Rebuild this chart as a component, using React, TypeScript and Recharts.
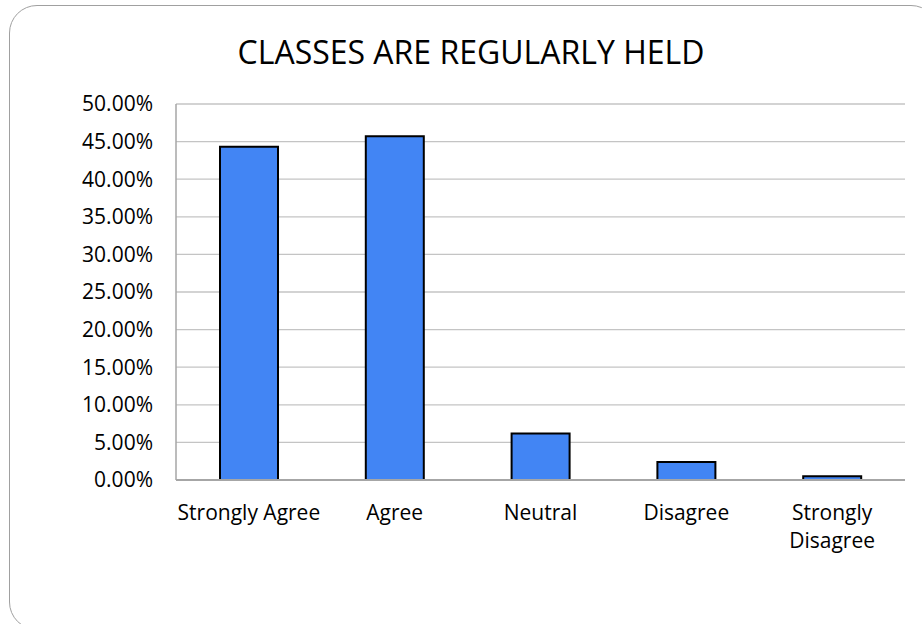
import { BarChart, Bar, XAxis, YAxis, CartesianGrid } from 'recharts';

const categories = ['Strongly Agree', 'Agree', 'Neutral', 'Disagree', 'Strongly Disagree'];
const shares = [44.3, 45.7, 6.2, 2.4, 0.5];
const yTicks = [0, 5, 10, 15, 20, 25, 30, 35, 40, 45, 50];

const data = categories.map((label, i) => ({ label, share: shares[i] }));

const FONT = '"Open Sans", sans-serif';

// wrap labels the way the spreadsheet does: words are kept together up to ~15 chars
function wrapLabel(text: string, maxChars = 15) {
  const lines: string[] = [];
  let cur = '';
  for (const w of text.split(' ')) {
    const next = cur ? cur + ' ' + w : w;
    if (next.length > maxChars && cur) {
      lines.push(cur);
      cur = w;
    } else {
      cur = next;
    }
  }
  if (cur) lines.push(cur);
  return lines;
}

function CategoryTick(props: any) {
  const { x, y, payload } = props;
  const lines = wrapLabel(String(payload.value));
  return (
    <text x={x} y={y} textAnchor="middle" fill="#000" fontSize={21} fontFamily={FONT}>
      {lines.map((line, i) => (
        <tspan key={i} x={x} dy={i === 0 ? '0.71em' : 28}>
          {line}
        </tspan>
      ))}
    </text>
  );
}

export default function App() {
  return (
    <div style={{ position: 'fixed', left: 0, top: 0, width: 922, height: 624, overflow: 'hidden', background: '#fff' }}>
      <div
        style={{
          position: 'absolute',
          left: 9,
          top: 5,
          width: 930,
          height: 625,
          border: '1.5px solid #a0a0a0',
          borderRadius: 28,
          boxSizing: 'border-box',
        }}
      />
      <div
        style={{
          position: 'absolute',
          left: 0,
          top: 30,
          width: 942,
          textAlign: 'center',
          fontFamily: FONT,
          fontSize: 32,
          lineHeight: '44px',
          color: '#000',
        }}
      >
        CLASSES ARE REGULARLY HELD
      </div>
      <div style={{ position: 'absolute', left: 0, top: 0 }}>
        <BarChart width={922} height={624} data={data} margin={{ top: 104, right: 17, bottom: 114, left: 0 }} barSize={58}>
          <CartesianGrid vertical={false} stroke="#c4c4c4" strokeWidth={1.3} />
          <XAxis
            dataKey="label"
            height={30}
            interval={0}
            tickLine={false}
            tickSize={0}
            tickMargin={25}
            axisLine={{ stroke: '#a6a6a6', strokeWidth: 2 }}
            tick={<CategoryTick />}
          />
          <YAxis
            width={176}
            domain={[0, 50]}
            ticks={yTicks}
            interval={0}
            tickLine={false}
            tickSize={0}
            tickMargin={23}
            axisLine={{ stroke: '#a6a6a6', strokeWidth: 1.5 }}
            tickFormatter={(v: number) => v.toFixed(2) + '%'}
            tick={{ fill: '#000', fontSize: 21, fontFamily: FONT }}
          />
          <Bar dataKey="share" fill="#4285F4" stroke="#000" strokeWidth={2} isAnimationActive={false} />
        </BarChart>
      </div>
    </div>
  );
}
